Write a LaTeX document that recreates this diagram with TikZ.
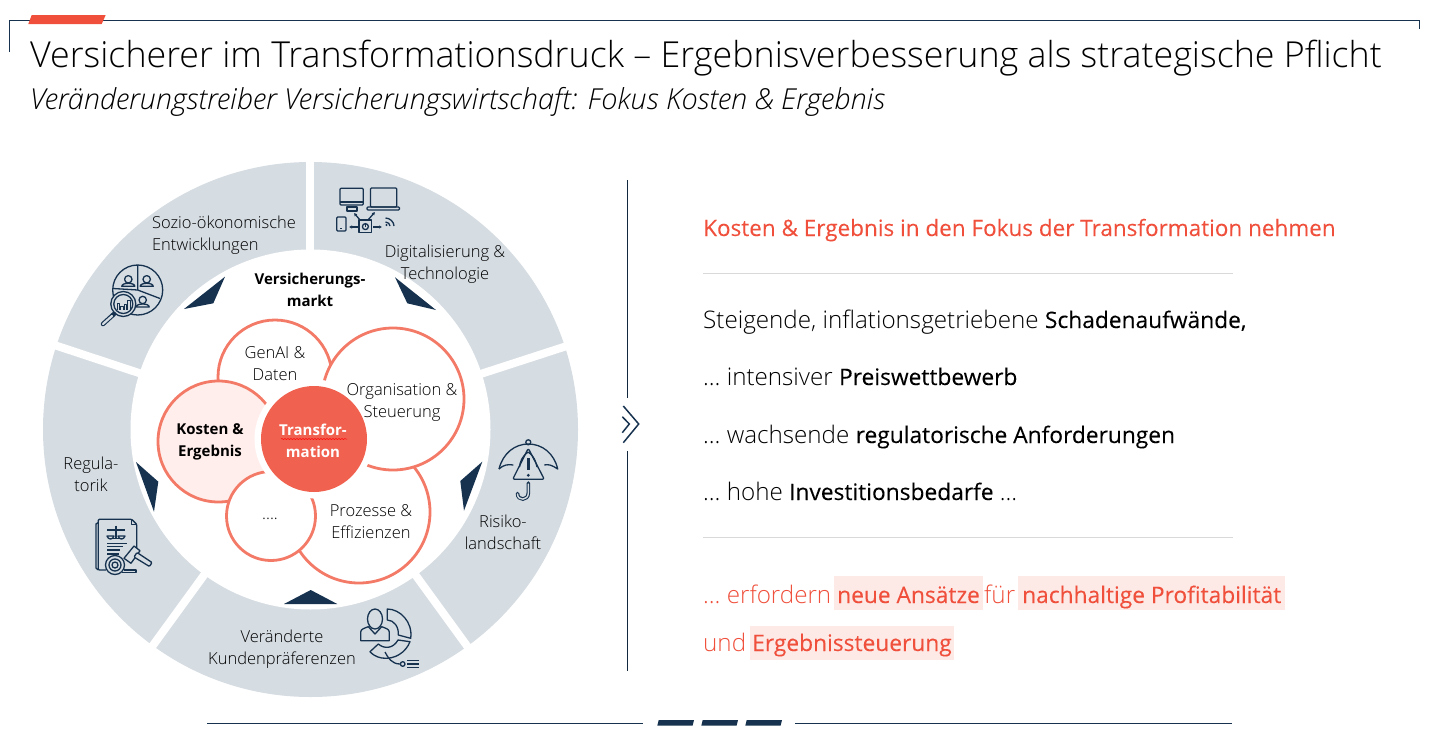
\documentclass[tikz,border=0pt]{standalone}
\usepackage{fontspec}
\setmainfont{Open Sans Light}[BoldFont=Open Sans Bold,ItalicFont=Open Sans Light Italic]
\newfontfamily\regfont{Open Sans}[Scale=0.94,FakeBold=0.12]
\usetikzlibrary{decorations.pathmorphing,arrows.meta}
\definecolor{navy}{HTML}{16324F}
\definecolor{ringgray}{HTML}{D5DCE2}
\definecolor{salmon}{HTML}{F47A68}
\definecolor{rosefill}{HTML}{FFEEEB}
\definecolor{redtext}{HTML}{EF4F3B}
\definecolor{redfill}{HTML}{F1614F}
\definecolor{hilite}{HTML}{FDE9E6}
\definecolor{ruleline}{HTML}{D9D9D9}
\tikzset{
  x=1pt,y=-1pt,
  ringtext/.style={align=center,inner sep=0pt,font=\fontsize{16.5}{22}\selectfont,text=black},
  boldtext/.style={align=center,inner sep=0pt,font=\fontsize{15}{22}\selectfont\bfseries},
  bubble/.style={circle,draw=salmon,line width=2.8pt,fill=white,inner sep=0pt},
  bartext/.style={anchor=base west,inner sep=0pt,font=\fontsize{24.2}{28}\selectfont,text=black},
  redbar/.style={bartext,text=redtext},
  iconline/.style={draw=navy,line width=1.3pt,line join=round},
  iconarrow/.style={iconline,-{Latex[length=3pt,width=3.5pt]}},
}
\begin{document}
\begin{tikzpicture}
\useasboundingbox (0,0) rectangle (1432,739);

% header
\draw[navy,line width=1pt] (9.5,52) -- (9.5,20.5) -- (1419.5,20.5) -- (1419.5,29);
\fill[redtext] (28.3,24) -- (31.7,15) -- (105.7,15) -- (101.7,24) -- cycle;
\node[anchor=base west,inner sep=0pt] (title) at (30,67) {\fontsize{35.8}{40}\selectfont Versicherer im Transformationsdruck – Ergebnisverbesserung als strategische Pflicht};
\node[anchor=base west,inner sep=0pt] (subtitle) at (30,109) {\fontsize{28.9}{30}\selectfont\itshape Veränderungstreiber Versicherungswirtschaft: Fokus Kosten \& Ergebnis};

% ring
\fill[ringgray] (310.5,429.5) circle (267.5pt);
\foreach \a in {90,18,-54,-126,161.7}
  \draw[white,line width=8pt] ({309.8+170*cos(\a)},{429.5-170*sin(\a)}) -- ({309.8+275*cos(\a)},{429.5-275*sin(\a)});
\fill[white] (310.5,429.5) circle (180pt);

% triangles
\fill[navy] (225,276.7) -- (213.3,303.3) -- (184,309) -- cycle;
\fill[navy] (395,277.3) -- (407.3,303.3) -- (436,310) -- cycle;
\fill[navy] (482.3,461.7) -- (460.3,481) -- (464,510.7) -- cycle;
\fill[navy] (136,462) -- (158.3,481.7) -- (154,511.7) -- cycle;
\fill[navy] (284,604) -- (310.7,590) -- (337.3,604) -- cycle;

% bubbles
\node[bubble,minimum size=114pt] (genai) at (275,377) {};
\node[bubble,minimum size=121pt,fill=rosefill] (kosten) at (218.5,441.5) {};
\node[bubble,minimum size=142pt] (prozesse) at (359,512) {};
\node[bubble,minimum size=89pt] (dots) at (271,516) {};
\node[bubble,minimum size=142pt] (organisation) at (393,399) {};
\node[circle,fill=white,minimum size=119pt,inner sep=0pt] (halo) at (314,439) {};
\node[circle,fill=redfill,minimum size=106pt,inner sep=0pt] (transformation) at (314,439) {};

% ring labels
\node[ringtext,align=left] (sozio) at (224,235) {Sozio-ökonomische\\Entwicklungen};
\node[ringtext] (digital) at (445,264) {Digitalisierung \&\\Technologie};
\node[boldtext] (markt) at (310,290) {Versicherungs-\\markt};
\node[ringtext] (genaitext) at (275,364) {GenAI \&\\Daten};
\node[ringtext] (orgtext) at (402,402) {Organisation \&\\Steuerung};
\node[boldtext] (kostentext) at (210,442) {Kosten \&\\Ergebnis};
\node[boldtext,text=white] (transtext) at (313,441) {Transfor-\\mation};
\node[ringtext] (prozesstext) at (371,522) {Prozesse \&\\Effizienzen};
\node[ringtext] (dotstext) at (270,519) {....};
\node[ringtext] (regula) at (91,474) {Regula-\\torik};
\node[ringtext] (risiko) at (503,532) {Risiko-\\landschaft};
\node[ringtext] (kunden) at (282,649) {Veränderte\\Kundenpräferenzen};
\draw[red,line width=.5pt,decorate,decoration={snake,amplitude=.5pt,segment length=3pt}] (281,439) -- (347,439);

% icon sozio
\draw[iconline] (137.7,290) circle (25pt);
\draw[iconline] (137.7,265) -- (137.7,290) -- (113,288.5);
\draw[iconline] (137.7,290) -- (160,298.5);
\foreach \px/\py in {128.3/279.3,146.7/279.3,142.7/300} {
  \draw[iconline] (\px,\py) circle (3.7pt);
  \draw[iconline] (\px-6.5,\py+7) .. controls (\px-6.5,\py+3) and (\px+6.5,\py+3) .. (\px+6.5,\py+7) -- cycle;
}
\draw[iconline,fill=ringgray] (123.3,304) circle (12.5pt);
\draw[iconline] (123.3,304) circle (9.5pt);
\foreach \bx/\by in {117/303,120.5/306,124/304,127.5/300}
  \draw[iconline,line width=.9pt] (\bx,310) -- (\bx,\by) -- (\bx+2.5,\by) -- (\bx+2.5,310);
\draw[navy,line width=4.5pt,line cap=round] (114,314) -- (103,324);
\draw[ringgray,line width=2.2pt,line cap=round] (112,316) -- (103,324);

% icon digital
\draw[iconline,rounded corners=1pt] (340,188.3) rectangle (363.3,205);
\draw[iconline] (340,202) -- (363.3,202);
\draw[iconline] (347,207) rectangle (357,211);
\draw[iconline,rounded corners=1pt] (370.5,188) rectangle (396.7,207);
\draw[iconline,rounded corners=1pt] (367,207) rectangle (399.5,210);
\draw[iconline,rounded corners=1pt] (336.7,217) rectangle (346,231);
\draw[iconline] (340,228.5) -- (342,228.5);
\draw[iconline] (359,220) rectangle (371.7,232.7);
\draw[iconline] (365.4,226.6) circle (3pt);
\draw[iconline] (365.4,222.5) -- (365.4,226.6);
\draw[iconarrow] (360,220) -- (354,213);
\draw[iconarrow] (368,220) -- (375,212);
\draw[iconarrow] (358,227) -- (349,227);
\draw[iconarrow] (373,227) -- (382,227);
\draw[iconline] (385.5,218) .. controls (390,218) and (394,222) .. (394,226);
\draw[iconline] (385.5,222) .. controls (388,222) and (390,224) .. (390,226);
\fill[navy] (386.5,225) circle (1.2pt);

% icon risiko
\draw[iconline] (499,469) .. controls (503,453) and (515,444) .. (528.3,444) .. controls (542,444) and (554,453) .. (557.7,469) .. controls (552,465) and (548,464) .. (544.3,465);
\draw[iconline] (499,469) .. controls (503,465) and (508,464) .. (513.3,465);
\draw[iconline] (528.3,442.3) circle (2.5pt);
\draw[iconline,rounded corners=2pt] (528.3,448.3) -- (512.7,479.3) -- (544.3,479.3) -- cycle;
\draw[iconline] (528.3,452) .. controls (522,456) and (520,462) .. (519.5,467);
\draw[iconline] (528.3,452) .. controls (534,456) and (536,462) .. (537,467);
\draw[navy,line width=2.6pt] (528.3,458.3) -- (528.3,470);
\fill[navy] (528.3,475.3) circle (1.6pt);
\draw[navy,line width=3.6pt,line cap=round] (528.3,483) -- (528.3,493) .. controls (528.3,501) and (517.5,501) .. (517.5,493.5);
\draw[ringgray,line width=1.4pt,line cap=round] (528.3,484) -- (528.3,493) .. controls (528.3,501) and (517.5,501) .. (517.5,494);

% icon kunden
\draw[iconline] (375,619) ellipse (7.5pt and 10pt);
\draw[iconline] (360.7,640.7) -- (360.7,632) .. controls (360.7,629) and (365,628) .. (368.3,626.7) -- (375,634) -- (381.7,626.7) .. controls (385,628) and (389.3,629) .. (389.3,632) -- (389.3,640.7) -- cycle;
\draw[iconline] (387.3,609) .. controls (400,609) and (413,622) .. (410.7,638.3) -- (398.3,635) .. controls (399,627) and (394,620) .. (387.3,620) -- cycle;
\draw[iconline] (410,641.7) .. controls (406,652) and (395,660) .. (381.7,658) .. controls (376,657) and (372,654) .. (370,651.7) -- (378.3,644) .. controls (384,649) and (393,649) .. (398,640) -- cycle;
\draw[iconline] (385,652) .. controls (388,658) and (392,664) .. (400,664);
\draw[iconline] (402.7,664) circle (2.3pt);
\foreach \ly in {660.7,664,667.3}
  \draw[iconline] (407.3,\ly) -- (419.3,\ly);

% icon regula
\draw[iconline,rounded corners=1pt] (106,570) -- (98.3,570) -- (98.3,519.3) -- (131.7,519.3) -- (136.7,524.3) -- (136.7,552);
\draw[iconline] (131.7,519.3) -- (131.7,524.3) -- (136.7,524.3);
\draw[iconline] (98.3,522.5) -- (96,524) -- (96,568) -- (98.3,570);
\draw[iconline] (116,525.7) -- (116,538.3);
\draw[iconline] (107.3,530) -- (125,530);
\draw[iconline] (107,536) .. controls (108,540) and (113,540) .. (114,536) -- cycle;
\draw[iconline] (118,536) .. controls (119,540) and (124,540) .. (125,536) -- cycle;
\draw[iconline] (112.7,538.8) -- (120,538.8);
\foreach \lx/\ly in {126.7/543.3,123/546.7,120/550,119/554}
  \draw[iconline] (107.3,\ly) -- (\lx,\ly);
\draw[iconline] (115,565) circle (9.5pt);
\draw[iconline] (115,565) circle (6pt);
\draw[iconline] (115,565) circle (3pt);
\draw[iconline,fill=ringgray] (134,546) -- (140,550.7) -- (131,563.3) -- (124,558.3) -- cycle;
\draw[iconline,fill=ringgray,rounded corners=1pt] (137,552.5) -- (152,562.5) -- (149.5,566.5) -- (134,557) -- cycle;
\draw[iconline] (121.7,572.7) -- (136,572.7) -- (136,570) -- (124,570);

% middle rule
\draw[navy!80!black,line width=.8pt] (627.7,180) -- (627.7,398);
\draw[navy!80!black,line width=.8pt] (627.7,451) -- (627.7,671);
\draw[navy,line width=1.5pt] (623.3,406) -- (638.7,424) -- (623.3,442.7);
\draw[navy,line width=1.5pt] (622.3,416.7) -- (629.3,424) -- (622.3,432.7);

% right column
\node[redbar,font=\fontsize{23.93}{28}\selectfont] (headline) at (703,236) {\regfont Kosten \& Ergebnis in den Fokus der Transformation nehmen};
\draw[ruleline,line width=.8pt] (703,273) -- (1233,273);
\draw[ruleline,line width=.8pt] (703,537) -- (1233,537);
\node[bartext] (row1) at (703,328) {Steigende, inflationsgetriebene {\regfont Schadenaufwände,}};
\node[bartext] (row2) at (703,385) {… intensiver {\regfont Preiswettbewerb}};
\node[bartext] (row3) at (703,443) {… wachsende {\regfont regulatorische Anforderungen}};
\node[bartext] (row4) at (703,500) {… hohe {\regfont Investitionsbedarfe} …};
\fill[hilite] (834,576) rectangle (983,610);
\fill[hilite] (1018,576) rectangle (1285,610);
\fill[hilite] (750,626) rectangle (954,660);
\node[redbar] (red1) at (703,603) {… erfordern};
\node[redbar] (red2) at (837,603) {\regfont neue Ansätze};
\node[redbar] (red3) at (984,603) {für};
\node[redbar] (red4) at (1022,603) {\regfont nachhaltige Profitabilität};
\node[redbar] (red5) at (703,651) {und};
\node[redbar] (red6) at (752,651) {\regfont Ergebnissteuerung};

% footer
\draw[navy,line width=1pt] (207,723.3) -- (643,723.3);
\draw[navy,line width=1pt] (795,723.3) -- (1232,723.3);
\foreach \bx in {657.3,701.3,745.3}
  \fill[navy] (\bx,725.7) -- (\bx+1.4,720) -- (\bx+36.7,720) -- (\bx+35.3,725.7) -- cycle;
\end{tikzpicture}
\end{document}
